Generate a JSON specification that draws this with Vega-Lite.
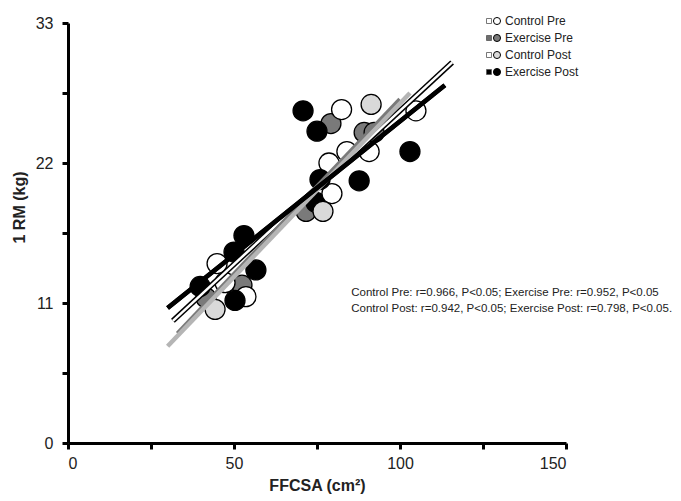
{
  "$schema": "https://vega.github.io/schema/vega-lite/v6.json",
  "width": 498,
  "height": 420,
  "autosize": {"type": "none"},
  "padding": {"left": 68, "top": 23, "right": 115, "bottom": 58},
  "background": "white",
  "config": {
    "view": {"stroke": null},
    "font": "Liberation Sans",
    "axis": {
      "grid": false,
      "domainColor": "black",
      "domainWidth": 3,
      "tickColor": "black",
      "tickWidth": 3,
      "tickSize": 6,
      "labelFont": "Liberation Sans",
      "labelFontSize": 16,
      "labelColor": "#222222",
      "titleFont": "Liberation Sans",
      "titleFontSize": 16,
      "titleFontWeight": "bold",
      "titleColor": "#222222"
    },
    "legend": {"labelFont": "Liberation Sans", "padding": 0}
  },
  "resolve": {"scale": {"fill": "independent"}},
  "datasets": {
    "points": [
      {"group": "Exercise Pre", "ffcsa": 79.2, "rm": 25.1},
      {"group": "Exercise Pre", "ffcsa": 89.2, "rm": 24.4},
      {"group": "Exercise Pre", "ffcsa": 92.2, "rm": 24.4},
      {"group": "Exercise Pre", "ffcsa": 71.7, "rm": 18.2},
      {"group": "Exercise Pre", "ffcsa": 52.4, "rm": 12.4},
      {"group": "Exercise Pre", "ffcsa": 41.6, "rm": 11.4},
      {"group": "Exercise Post", "ffcsa": 74.7, "rm": 18.9},
      {"group": "Control Pre", "ffcsa": 82.4, "rm": 26.2},
      {"group": "Control Pre", "ffcsa": 104.8, "rm": 26.1},
      {"group": "Control Pre", "ffcsa": 84.0, "rm": 22.9},
      {"group": "Control Pre", "ffcsa": 90.7, "rm": 22.9},
      {"group": "Control Pre", "ffcsa": 78.6, "rm": 22.0},
      {"group": "Control Pre", "ffcsa": 79.5, "rm": 19.6},
      {"group": "Control Pre", "ffcsa": 44.9, "rm": 14.1},
      {"group": "Control Pre", "ffcsa": 47.3, "rm": 12.6},
      {"group": "Control Pre", "ffcsa": 53.6, "rm": 11.5},
      {"group": "Control Post", "ffcsa": 91.3, "rm": 26.6},
      {"group": "Control Post", "ffcsa": 76.8, "rm": 18.2},
      {"group": "Control Post", "ffcsa": 44.3, "rm": 10.5},
      {"group": "Exercise Post", "ffcsa": 70.8, "rm": 26.1},
      {"group": "Exercise Post", "ffcsa": 75.0, "rm": 24.5},
      {"group": "Exercise Post", "ffcsa": 103.0, "rm": 22.9},
      {"group": "Exercise Post", "ffcsa": 75.9, "rm": 20.7},
      {"group": "Exercise Post", "ffcsa": 87.7, "rm": 20.6},
      {"group": "Exercise Post", "ffcsa": 53.0, "rm": 16.3},
      {"group": "Exercise Post", "ffcsa": 50.0, "rm": 15.0},
      {"group": "Exercise Post", "ffcsa": 56.6, "rm": 13.6},
      {"group": "Exercise Post", "ffcsa": 39.8, "rm": 12.3},
      {"group": "Exercise Post", "ffcsa": 50.3, "rm": 11.2}
    ],
    "lines": [
      {"series": "Control Pre", "ffcsa": 31.6, "rm": 9.6},
      {"series": "Control Pre", "ffcsa": 115.7, "rm": 29.9},
      {"series": "Exercise Pre", "ffcsa": 33.0, "rm": 8.6},
      {"series": "Exercise Pre", "ffcsa": 100.0, "rm": 27.0},
      {"series": "Control Post", "ffcsa": 30.0, "rm": 7.6},
      {"series": "Control Post", "ffcsa": 103.0, "rm": 27.5},
      {"series": "Exercise Post", "ffcsa": 30.0, "rm": 10.6},
      {"series": "Exercise Post", "ffcsa": 113.5, "rm": 28.1}
    ],
    "notes": [
      {"ffcsa": 85.3, "rm": 11.8, "note": "Control Pre: r=0.966, P<0.05; Exercise Pre: r=0.952, P<0.05"},
      {"ffcsa": 85.3, "rm": 10.55, "note": "Control Post: r=0.942, P<0.05; Exercise Post: r=0.798, P<0.05."}
    ]
  },
  "encoding": {
    "x": {
      "field": "ffcsa",
      "type": "quantitative",
      "scale": {"domain": [0, 150], "nice": false},
      "axis": {
        "values": [0, 25, 50, 75, 100, 125, 150],
        "labelExpr": "datum.value % 50 === 0 ? datum.label : ''",
        "title": "FFCSA (cm²)",
        "labelPadding": 6,
        "titlePadding": 6
      }
    },
    "y": {
      "field": "rm",
      "type": "quantitative",
      "scale": {"domain": [0, 33], "nice": false},
      "axis": {
        "values": [0, 5.5, 11, 16.5, 22, 27.5, 33],
        "labelExpr": "datum.value % 11 === 0 ? datum.label : ''",
        "title": "1 RM (kg)",
        "labelPadding": 9,
        "titleX": -49,
        "titleY": 184,
        "titleAlign": "center",
        "titleBaseline": "middle"
      }
    }
  },
  "layer": [
    {
      "data": {"name": "lines"},
      "mark": {"type": "square", "opacity": 0, "size": 10},
      "encoding": {
        "fill": {
          "field": "series",
          "type": "nominal",
          "sort": ["Control Pre", "Exercise Pre", "Control Post", "Exercise Post"],
          "scale": {"range": ["#ffffff", "#6e6e6e", "#ffffff", "#000000"]},
          "legend": {
            "title": null,
            "orient": "none",
            "legendX": 415,
            "legendY": -8,
            "symbolType": "square",
            "symbolSize": 25,
            "symbolStrokeColor": "#555555",
            "symbolStrokeWidth": 0.8,
            "symbolOpacity": 1,
            "labelExpr": "''",
            "labelFontSize": 12,
            "rowPadding": 5
          }
        }
      }
    },
    {
      "data": {"name": "points"},
      "mark": {"type": "circle", "size": 400, "stroke": "black", "strokeWidth": 1.3, "opacity": 1},
      "encoding": {
        "fill": {
          "field": "group",
          "type": "nominal",
          "scale": {
            "domain": ["Control Pre", "Exercise Pre", "Control Post", "Exercise Post"],
            "range": ["#ffffff", "#7a7a7a", "#d9d9d9", "#000000"]
          },
          "legend": {
            "title": null,
            "orient": "none",
            "legendX": 423,
            "legendY": -8,
            "symbolType": "circle",
            "symbolSize": 50,
            "symbolStrokeColor": "black",
            "symbolStrokeWidth": 1,
            "labelFontSize": 12,
            "labelColor": "#222222",
            "labelOffset": 2,
            "rowPadding": 5
          }
        }
      }
    },
    {
      "data": {"name": "lines"},
      "transform": [{"filter": "datum.series === 'Control Pre'"}],
      "mark": {"type": "line", "stroke": "black", "strokeWidth": 5.5, "strokeCap": "butt"},
      "encoding": {}
    },
    {
      "data": {"name": "lines"},
      "mark": {"type": "line", "strokeCap": "butt"},
      "encoding": {
        "stroke": {
          "field": "series",
          "type": "nominal",
          "sort": ["Control Pre", "Exercise Pre", "Control Post", "Exercise Post"],
          "scale": {"range": ["#ffffff", "#7a7a7a", "#b5b5b5", "#000000"]},
          "legend": null
        },
        "strokeWidth": {
          "condition": {"test": "datum.series === 'Control Pre'", "value": 2.5},
          "value": 4.5
        }
      }
    },
    {
      "data": {"name": "lines"},
      "transform": [{"filter": "datum.series === 'Exercise Post'"}],
      "mark": {"type": "line", "stroke": "black", "strokeWidth": 4.5, "strokeCap": "butt"},
      "encoding": {}
    },
    {
      "data": {"name": "notes"},
      "mark": {"type": "text", "align": "left", "baseline": "middle", "fontSize": 11.5, "fill": "#222222"},
      "encoding": {
        "text": {"field": "note", "type": "nominal"}
      }
    }
  ]
}
